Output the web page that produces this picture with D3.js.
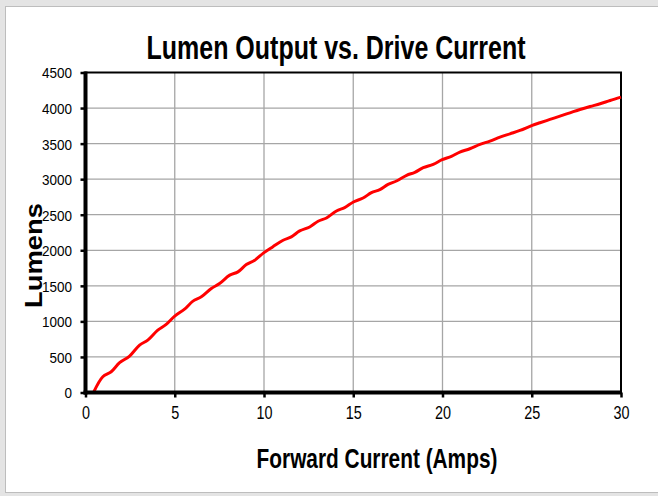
<!DOCTYPE html>
<html><head><meta charset="utf-8">
<script src="https://cdn.jsdelivr.net/npm/d3@7"></script>
<style>
html,body{margin:0;padding:0;background:#e4e4e4;}
svg{display:block;}
</style></head>
<body>
<svg id="chart" width="658" height="496"></svg>
<script>
const titleText = "Lumen Output vs. Drive Current";
const xTitle = "Forward Current (Amps)";
const yTitle = "Lumens";
const xTicks = [0, 5, 10, 15, 20, 25, 30];
const yTicks = [0, 500, 1000, 1500, 2000, 2500, 3000, 3500, 4000, 4500];
const current = [0.45,0.97,1.44,1.91,2.47,3.03,3.49,4.05,4.52,5.0,5.55,6.02,6.49,7.05,7.51,8.08,8.54,9.01,9.48,9.98,10.5,11.07,11.53,12.0,12.56,13.03,13.5,14.06,14.52,15.01,15.55,16.02,16.49,16.95,17.42,17.99,18.45,18.92,19.48,19.98,20.5,20.97,21.53,22.1,22.66,23.22,23.78,24.34,25.03,25.46,26.02,26.58,27.14,27.7,28.27,28.83,29.39,30.0];
const lumens = [0,222,292,419,512,667,737,877,957,1074,1172,1285,1345,1463,1533,1650,1696,1799,1860,1963,2050,2141,2188,2272,2328,2408,2454,2553,2600,2679,2735,2811,2853,2927,2974,3054,3096,3162,3208,3274,3320,3381,3428,3489,3535,3591,3638,3685,3756,3793,3840,3886,3933,3980,4022,4060,4107,4153];

const svg = d3.select("#chart");
const font = "'Liberation Sans',Arial,sans-serif";

// background panel
svg.append("rect").attr("x",0).attr("y",0).attr("width",658).attr("height",496).attr("fill","#e4e4e4");
svg.append("rect").attr("x",5.5).attr("y",6.5).attr("width",700).attr("height",486)
  .attr("fill","#ffffff").attr("stroke","#bdbdbd").attr("stroke-width",1);

const L=85.5, R=621, T=72.5, B=392.5;
const x = d3.scaleLinear().domain([0,30]).range([L,R]);
const y = d3.scaleLinear().domain([0,4500]).range([B,T]);

// gridlines
const g = svg.append("g");
g.selectAll(".vg").data(xTicks.filter(d=>d>0&&d<30)).join("line")
  .attr("x1",d=>x(d)).attr("x2",d=>x(d)).attr("y1",T).attr("y2",B)
  .attr("stroke","#a6a6a6").attr("stroke-width",1.3);
g.selectAll(".hg").data(yTicks.filter(d=>d>0&&d<4500)).join("line")
  .attr("x1",L).attr("x2",R).attr("y1",d=>y(d)).attr("y2",d=>y(d))
  .attr("stroke","#a6a6a6").attr("stroke-width",1.3);

// plot border (top/right)
svg.append("rect").attr("x",L).attr("y",T).attr("width",R-L).attr("height",B-T)
  .attr("fill","none").attr("stroke","#000").attr("stroke-width",2);

// line
const line = d3.line().x((d,i)=>x(current[i])).y((d,i)=>y(lumens[i])).curve(d3.curveCatmullRom);
svg.append("path").datum(lumens).attr("d",line).attr("fill","none")
  .attr("stroke","#ff0000").attr("stroke-width",3).attr("stroke-linejoin","round");

// axes
const fmt = d3.format("d");
const xAxis = d3.axisBottom(x).tickValues(xTicks).tickFormat(fmt).tickSize(5).tickPadding(9).tickSizeOuter(0);
const yAxis = d3.axisLeft(y).tickValues(yTicks).tickFormat(fmt).tickSize(5).tickPadding(9).tickSizeOuter(0);
const gx = svg.append("g").attr("transform",`translate(0,${B})`).call(xAxis);
const gy = svg.append("g").attr("transform",`translate(${L},0)`).call(yAxis);
[gx,gy].forEach(a=>{
  a.select(".domain").attr("stroke","#000").attr("stroke-width",4);
  a.selectAll(".tick line").attr("stroke","#000").attr("stroke-width",2.5);
  a.selectAll(".tick text").attr("fill","#000").attr("font-family",font);
});
// condensed look: scale tick labels horizontally
gx.selectAll(".tick text").attr("font-size",18).attr("dy","0.71em")
  .attr("transform","scale(0.8,1)").attr("x",0);
gy.selectAll(".tick text").attr("font-size",15).attr("dy","0.36em")
  .attr("transform","translate(-13.5,0) scale(0.9,1)").attr("x",0);
gy.select(".domain").attr("d",`M0,${T-1}V${B+2}`);
gx.select(".domain").attr("d",`M${L-2},0H${R}`);

// titles, horizontally condensed to match target widths
function fitText(sel, cx, targetW){
  const w = sel.node().getComputedTextLength();
  const s = targetW / w;
  sel.attr("x",0).attr("transform",`translate(${cx},0) scale(${s},1)`);
}
const t1 = svg.append("text").attr("y",59).attr("text-anchor","middle")
  .attr("font-family",font).attr("font-weight","bold").attr("font-size",34).attr("fill","#000").text(titleText);
fitText(t1, 336, 379);
const t2 = svg.append("text").attr("y",468).attr("text-anchor","middle")
  .attr("font-family",font).attr("font-weight","bold").attr("font-size",27).attr("fill","#000").text(xTitle);
fitText(t2, 377, 241);
const t3 = svg.append("text").attr("text-anchor","middle")
  .attr("font-family",font).attr("font-weight","bold").attr("font-size",24).attr("fill","#000").text(yTitle);
const w3 = t3.node().getComputedTextLength();
t3.attr("transform",`translate(42,255.5) rotate(-90) scale(${105/w3},1)`);
</script>
</body></html>
